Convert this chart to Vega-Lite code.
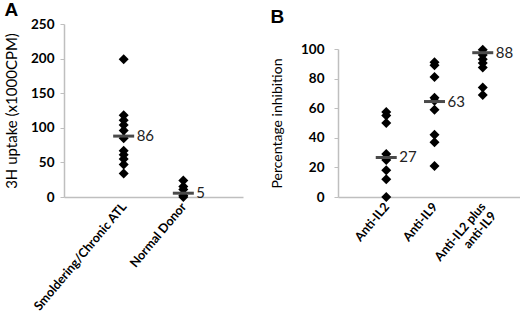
{
  "$schema": "https://vega.github.io/schema/vega-lite/v6.json",
  "background": "white",
  "padding": {"left": 4, "top": 1, "right": 0, "bottom": 0},
  "spacing": 27,
  "config": {
    "font": "Lato",
    "view": {"stroke": null},
    "concat": {"spacing": 0},
    "axis": {
      "domainColor": "#bfbfbf",
      "domainWidth": 1.5,
      "tickColor": "#bfbfbf",
      "grid": false,
      "labelColor": "#000000",
      "labelFont": "Lato",
      "labelFontWeight": "bold",
      "titleColor": "#000000",
      "titleFont": "Lato",
      "titleFontWeight": "normal"
    }
  },
  "datasets": {
    "a": [
      {"group": "Smoldering/Chronic ATL", "value": 199},
      {"group": "Smoldering/Chronic ATL", "value": 118},
      {"group": "Smoldering/Chronic ATL", "value": 111},
      {"group": "Smoldering/Chronic ATL", "value": 104},
      {"group": "Smoldering/Chronic ATL", "value": 96},
      {"group": "Smoldering/Chronic ATL", "value": 85},
      {"group": "Smoldering/Chronic ATL", "value": 67},
      {"group": "Smoldering/Chronic ATL", "value": 61},
      {"group": "Smoldering/Chronic ATL", "value": 55},
      {"group": "Smoldering/Chronic ATL", "value": 47},
      {"group": "Smoldering/Chronic ATL", "value": 34},
      {"group": "Normal Donor", "value": 24},
      {"group": "Normal Donor", "value": 15},
      {"group": "Normal Donor", "value": 11},
      {"group": "Normal Donor", "value": 2},
      {"group": "Normal Donor", "value": 0}
    ],
    "aMed": [
      {"group": "Smoldering/Chronic ATL", "value": 88, "label": "86"},
      {"group": "Normal Donor", "value": 5.5, "label": "5"}
    ],
    "b": [
      {"group": "Anti-IL2", "value": 57.5},
      {"group": "Anti-IL2", "value": 55},
      {"group": "Anti-IL2", "value": 50},
      {"group": "Anti-IL2", "value": 29},
      {"group": "Anti-IL2", "value": 25},
      {"group": "Anti-IL2", "value": 18},
      {"group": "Anti-IL2", "value": 12},
      {"group": "Anti-IL2", "value": 0},
      {"group": "Anti-IL9", "value": 91},
      {"group": "Anti-IL9", "value": 89},
      {"group": "Anti-IL9", "value": 81},
      {"group": "Anti-IL9", "value": 67},
      {"group": "Anti-IL9", "value": 65},
      {"group": "Anti-IL9", "value": 59},
      {"group": "Anti-IL9", "value": 42},
      {"group": "Anti-IL9", "value": 37},
      {"group": "Anti-IL9", "value": 21},
      {"group": "Anti-IL2 plus anti-IL9", "value": 99.5},
      {"group": "Anti-IL2 plus anti-IL9", "value": 96},
      {"group": "Anti-IL2 plus anti-IL9", "value": 93},
      {"group": "Anti-IL2 plus anti-IL9", "value": 90.5},
      {"group": "Anti-IL2 plus anti-IL9", "value": 87.5},
      {"group": "Anti-IL2 plus anti-IL9", "value": 74},
      {"group": "Anti-IL2 plus anti-IL9", "value": 69}
    ],
    "bMed": [
      {"group": "Anti-IL2", "value": 26.7, "label": "27"},
      {"group": "Anti-IL9", "value": 64.5, "label": "63"},
      {"group": "Anti-IL2 plus anti-IL9", "value": 97.5, "label": "88"}
    ],
    "empty": []
  },
  "hconcat": [
    {
      "title": {"text": "A", "anchor": "start", "font": "Liberation Sans", "fontSize": 19, "fontWeight": "bold", "color": "#000000", "offset": -3},
      "spacing": 0,
      "vconcat": [
        {
          "width": 179,
          "height": 173,
          "encoding": {
            "x": {"field": "group", "type": "nominal", "sort": null,
              "scale": {"type": "point", "padding": 1, "domain": ["Smoldering/Chronic ATL", "Normal Donor"]},
              "axis": {"title": null, "ticks": false, "labelAngle": -50, "labelAlign": "right", "labelBaseline": "middle", "labelFontSize": 12.5, "labelPadding": 7}},
            "y": {"field": "value", "type": "quantitative", "title": "3H uptake (x1000CPM)",
              "scale": {"domain": [0, 250], "nice": false},
              "axis": {"values": [0, 50, 100, 150, 200, 250], "tickSize": 4, "labelFontSize": 13.5, "labelPadding": 6, "titleFontSize": 15, "titlePadding": 11}}
          },
          "layer": [
            {
              "data": {"name": "a"},
              "mark": {"type": "point", "shape": "diamond", "filled": true, "color": "#000000", "size": 100, "opacity": 1}
            },
            {
              "data": {"name": "aMed"},
              "mark": {"type": "tick", "color": "#4a4a4a", "thickness": 3, "size": 21, "opacity": 1}
            },
            {
              "data": {"name": "aMed"},
              "mark": {"type": "text", "align": "left", "baseline": "middle", "dx": 13, "fontSize": 15, "color": "#222222", "font": "Lato"},
              "encoding": {"text": {"field": "label"}}
            }
          ]
        }
      ]
    },
    {
      "title": {"text": "B", "anchor": "start", "font": "Liberation Sans", "fontSize": 19, "fontWeight": "bold", "color": "#000000", "offset": -3},
      "spacing": 0,
      "vconcat": [
        {
          "width": 193,
          "height": 18,
          "data": {"name": "empty"},
          "mark": {"type": "point", "opacity": 0},
          "encoding": {}
        },
        {
          "width": 193,
          "height": 148,
          "encoding": {
            "x": {"field": "group", "type": "nominal", "sort": null,
              "scale": {"type": "point", "padding": 1, "domain": ["Anti-IL2", "Anti-IL9", "Anti-IL2 plus anti-IL9"]},
              "axis": {"title": null, "ticks": false, "labelAngle": -50, "labelAlign": "right", "labelBaseline": "middle", "labelFontSize": 12.5, "labelPadding": 7, "labelLineHeight": 14,
                "labelExpr": "datum.value == 'Anti-IL2 plus anti-IL9' ? ['Anti-IL2 plus', 'anti-IL9'] : datum.label"}},
            "y": {"field": "value", "type": "quantitative", "title": "Percentage  inhibition",
              "scale": {"domain": [0, 100], "nice": false},
              "axis": {"values": [0, 20, 40, 60, 80, 100], "tickSize": 4, "labelFontSize": 13.5, "labelPadding": 10, "titleFontSize": 14, "titlePadding": 16}}
          },
          "layer": [
            {
              "data": {"name": "b"},
              "mark": {"type": "point", "shape": "diamond", "filled": true, "color": "#000000", "size": 100, "opacity": 1}
            },
            {
              "data": {"name": "bMed"},
              "mark": {"type": "tick", "color": "#4a4a4a", "thickness": 3, "size": 21, "opacity": 1}
            },
            {
              "data": {"name": "bMed"},
              "mark": {"type": "text", "align": "left", "baseline": "middle", "dx": 13, "fontSize": 15, "color": "#222222", "font": "Lato"},
              "encoding": {"text": {"field": "label"}}
            }
          ]
        }
      ]
    }
  ]
}
